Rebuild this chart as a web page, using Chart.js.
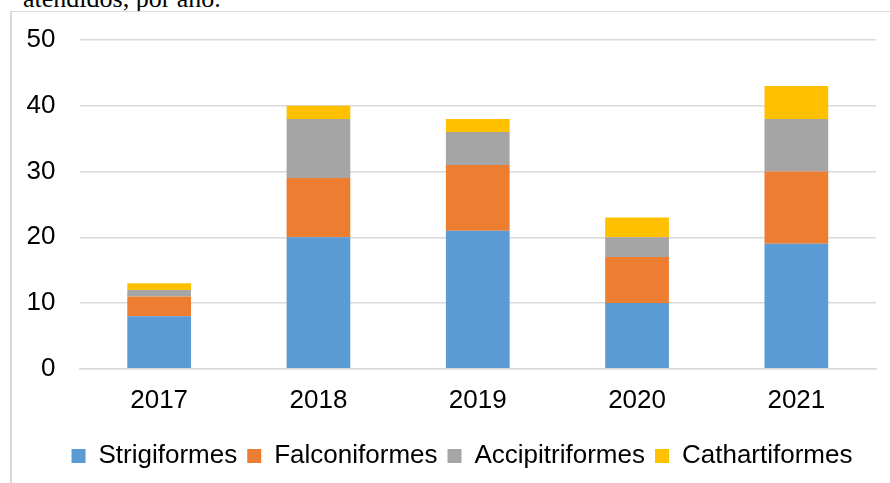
<!DOCTYPE html>
<html>
<head>
<meta charset="utf-8">
<script src="https://cdn.jsdelivr.net/npm/chart.js@4.4.1/dist/chart.umd.min.js"></script>
<style>
    body { margin: 0; background: #fff; width: 890px; height: 483px; overflow: hidden; position: relative; }
    #caption { position: absolute; left: 23px; top: -16px; font-family: "Liberation Serif", "Times New Roman", serif; font-size: 26px; color: #000; white-space: nowrap; }
    #frame { position: absolute; left: 10px; top: 11px; width: 900px; height: 480px; border-left: 2px solid #d9d9d9; border-top: 1px solid #d9d9d9; }
</style>
</head>
<body>
<div id="caption">atendidos, por año.</div>
<div id="frame"><canvas id="avesChart"></canvas></div>
<script>
const years = ['2017', '2018', '2019', '2020', '2021'];
const strigiformes = [8, 20, 21, 10, 19];
const falconiformes = [3, 9, 10, 7, 11];
const accipitriformes = [1, 9, 5, 3, 8];
const cathartiformes = [1, 2, 2, 3, 5];
const yTicks = [0, 10, 20, 30, 40, 50];

// la leyenda queda centrada en todo el marco, no solo en el área de padding
const centrarLeyenda = {
    id: 'centrarLeyenda',
    afterLayout: function (chart) {
        chart.legend.left += 11;
        chart.legend.right += 11;
    }
};

const ctx = document.getElementById('avesChart').getContext('2d');
const avesChart = new Chart(ctx, {
    type: 'bar',
    data: {
        labels: years,
        datasets: [
            { label: 'Strigiformes', data: strigiformes, backgroundColor: '#5b9bd5' },
            { label: 'Falconiformes', data: falconiformes, backgroundColor: '#ed7d31' },
            { label: 'Accipitriformes', data: accipitriformes, backgroundColor: '#a5a5a5' },
            { label: 'Cathartiformes', data: cathartiformes, backgroundColor: '#ffc000' }
        ]
    },
    plugins: [centrarLeyenda],
    options: {
        responsive: true,
        maintainAspectRatio: false,
        animation: false,
        layout: {
            padding: { left: 14, right: 36, top: 28, bottom: 13 }
        },
        datasets: {
            bar: { categoryPercentage: 1, barPercentage: 0.4 }
        },
        plugins: {
            legend: {
                position: 'bottom',
                labels: {
                    boxWidth: 14,
                    boxHeight: 14,
                    padding: 10,
                    color: '#000',
                    font: { family: '"Liberation Sans", Arial', size: 26 }
                }
            },
            tooltip: { enabled: false }
        },
        scales: {
            x: {
                stacked: true,
                afterFit: function (axis) {
                    axis.height += 9;
                },
                grid: { display: false },
                border: { display: true, color: '#d9d9d9', width: 1.5 },
                ticks: {
                    color: '#000',
                    padding: 8,
                    font: { family: '"Liberation Sans", Arial', size: 26 }
                }
            },
            y: {
                stacked: true,
                min: 0,
                max: 50,
                afterBuildTicks: function (axis) {
                    axis.ticks = yTicks.map(v => ({ value: v }));
                },
                afterFit: function (axis) {
                    axis.width = 53.5;
                    axis.paddingTop = 0;
                    axis.paddingBottom = 0;
                },
                grid: { color: '#d9d9d9', lineWidth: 1.5, drawTicks: false },
                border: { display: false },
                ticks: {
                    color: '#000',
                    padding: 24,
                    font: { family: '"Liberation Sans", Arial', size: 26 }
                }
            }
        }
    }
});
</script>
</body>
</html>
